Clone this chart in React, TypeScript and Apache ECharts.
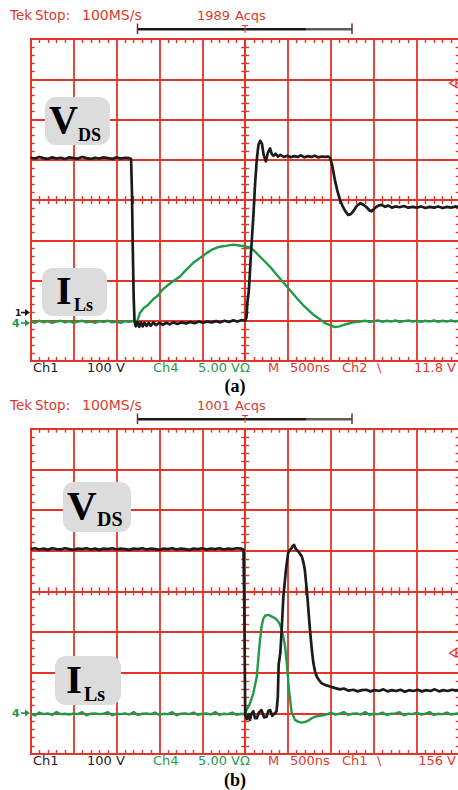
import { useEffect, useRef } from 'react';
import * as echarts from 'echarts';

// ---- data (division units: time -5..5 div, 500 ns/div; vertical -4..4 div) ----
const TIME_RANGE = [-5, 5];
const VERT_RANGE = [-4, 4];

const vdsA: number[][] = [
  [-5.0, 1.05], [-4.9, 1.03], [-4.8, 1.07], [-4.7, 1.04], [-4.6, 1.02], [-4.5, 1.06], [-4.4, 1.03], [-4.3, 1.05],
  [-4.2, 1.02], [-4.1, 1.06], [-4.0, 1.04], [-3.9, 1.03], [-3.8, 1.07], [-3.7, 1.04], [-3.6, 1.02], [-3.5, 1.05],
  [-3.4, 1.03], [-3.3, 1.06], [-3.2, 1.04], [-3.1, 1.02], [-3.0, 1.06], [-2.9, 1.03], [-2.8, 1.05], [-2.7, 1.04],
  [-2.66, 1.02], [-2.64, 0.2], [-2.62, -1.2], [-2.6, -2.4], [-2.58, -3.02],
  [-2.55, -3.14], [-2.51, -3.03], [-2.47, -3.15], [-2.43, -3.04], [-2.39, -3.14], [-2.35, -3.05], [-2.3, -3.13],
  [-2.25, -3.05], [-2.2, -3.12], [-2.14, -3.04], [-2.08, -3.11], [-2.0, -3.05], [-1.92, -3.1], [-1.84, -3.05],
  [-1.76, -3.09], [-1.68, -3.04], [-1.58, -3.08], [-1.48, -3.04], [-1.38, -3.07], [-1.28, -3.03], [-1.18, -3.06],
  [-1.08, -3.02], [-0.98, -3.05], [-0.88, -3.02], [-0.78, -3.04], [-0.68, -3.01], [-0.58, -3.04], [-0.48, -3.0],
  [-0.38, -3.03], [-0.28, -2.99], [-0.18, -3.02], [-0.08, -2.98], [0.0, -3.0],
  [0.03, -2.92], [0.05, -2.55], [0.08, -2.3], [0.1, -2.0], [0.13, -1.4], [0.16, -0.9], [0.19, -0.4], [0.23, 0.4],
  [0.27, 1.0], [0.31, 1.38], [0.35, 1.47], [0.39, 1.4], [0.43, 1.12], [0.48, 0.96], [0.53, 1.18], [0.58, 1.28],
  [0.62, 1.14], [0.66, 1.1], [0.71, 1.15], [0.76, 1.08], [0.82, 1.12], [0.9, 1.07], [0.98, 1.1], [1.06, 1.06],
  [1.14, 1.09], [1.22, 1.07], [1.3, 1.11], [1.38, 1.06], [1.46, 1.09], [1.54, 1.07], [1.62, 1.1], [1.7, 1.06],
  [1.78, 1.08], [1.86, 1.07], [1.94, 1.08], [1.98, 1.05],
  [2.03, 0.85], [2.09, 0.5], [2.15, 0.22], [2.21, 0.0], [2.27, -0.15], [2.33, -0.27], [2.4, -0.37], [2.46, -0.35],
  [2.52, -0.28], [2.6, -0.15], [2.68, -0.08], [2.76, -0.12], [2.83, -0.18], [2.9, -0.26], [2.95, -0.28],
  [3.02, -0.2], [3.1, -0.14], [3.18, -0.12], [3.26, -0.17], [3.34, -0.14], [3.42, -0.19], [3.5, -0.16],
  [3.6, -0.18], [3.7, -0.15], [3.8, -0.19], [3.9, -0.17], [4.0, -0.19], [4.1, -0.16], [4.2, -0.2], [4.3, -0.17],
  [4.4, -0.19], [4.5, -0.16], [4.6, -0.2], [4.7, -0.17], [4.8, -0.19], [4.9, -0.16], [5.0, -0.18],
];

const ilsA: number[][] = [
  [-5.0, -3.02], [-4.9, -3.05], [-4.8, -3.0], [-4.7, -3.04], [-4.6, -3.01], [-4.5, -3.05], [-4.4, -3.02],
  [-4.3, -3.0], [-4.2, -3.04], [-4.1, -3.01], [-4.0, -3.05], [-3.9, -3.02], [-3.8, -3.0], [-3.7, -3.04],
  [-3.6, -3.02], [-3.5, -3.05], [-3.4, -3.01], [-3.3, -3.03], [-3.2, -3.0], [-3.1, -3.04], [-3.0, -3.02],
  [-2.9, -3.05], [-2.8, -3.01], [-2.7, -3.03], [-2.6, -3.0], [-2.52, -3.02],
  [-2.45, -2.8], [-2.36, -2.68], [-2.28, -2.62], [-2.14, -2.46], [-2.04, -2.38], [-1.92, -2.22], [-1.83, -2.14],
  [-1.7, -2.03], [-1.52, -1.9], [-1.4, -1.76], [-1.21, -1.56], [-1.08, -1.46], [-0.9, -1.32], [-0.75, -1.22],
  [-0.59, -1.16], [-0.45, -1.14], [-0.28, -1.11], [-0.14, -1.13], [0.0, -1.15], [0.1, -1.18], [0.19, -1.24],
  [0.3, -1.36], [0.44, -1.51], [0.58, -1.66], [0.72, -1.84], [0.85, -2.0], [0.97, -2.15], [1.1, -2.31],
  [1.22, -2.46], [1.35, -2.61], [1.48, -2.74], [1.6, -2.86], [1.74, -2.96], [1.86, -3.06], [1.98, -3.11],
  [2.09, -3.16], [2.2, -3.14], [2.37, -3.08], [2.52, -3.04], [2.68, -3.02],
  [2.8, -3.0], [2.9, -3.03], [3.0, -3.01], [3.1, -2.99], [3.2, -3.03], [3.3, -3.0], [3.4, -3.02], [3.5, -2.99],
  [3.6, -3.03], [3.7, -3.01], [3.8, -2.99], [3.9, -3.02], [4.0, -3.0], [4.1, -3.03], [4.2, -3.0], [4.3, -3.02],
  [4.4, -2.99], [4.5, -3.03], [4.6, -3.0], [4.7, -3.02], [4.8, -2.99], [4.9, -3.02], [5.0, -3.0],
];

const vdsB: number[][] = [
  [-5.0, 1.04], [-4.9, 1.06], [-4.8, 1.03], [-4.7, 1.05], [-4.6, 1.02], [-4.5, 1.06], [-4.4, 1.04], [-4.3, 1.03],
  [-4.2, 1.06], [-4.1, 1.04], [-4.0, 1.02], [-3.9, 1.05], [-3.8, 1.04], [-3.7, 1.06], [-3.6, 1.03], [-3.5, 1.05],
  [-3.4, 1.02], [-3.3, 1.05], [-3.2, 1.04], [-3.1, 1.06], [-3.0, 1.03], [-2.9, 1.05], [-2.8, 1.04], [-2.7, 1.02],
  [-2.6, 1.05], [-2.5, 1.04], [-2.4, 1.06], [-2.3, 1.03], [-2.2, 1.05], [-2.1, 1.04], [-2.0, 1.02], [-1.9, 1.05],
  [-1.8, 1.04], [-1.7, 1.06], [-1.6, 1.03], [-1.5, 1.05], [-1.4, 1.04], [-1.3, 1.02], [-1.2, 1.05], [-1.1, 1.04],
  [-1.0, 1.06], [-0.9, 1.03], [-0.8, 1.05], [-0.7, 1.04], [-0.6, 1.06], [-0.5, 1.03], [-0.4, 1.05], [-0.3, 1.04],
  [-0.2, 1.06], [-0.1, 1.05], [-0.04, 1.03],
  [-0.02, -0.5], [0.0, -3.05],
  [0.04, -3.14], [0.08, -3.02], [0.11, -3.16], [0.15, -3.0], [0.19, -2.95], [0.23, -3.12], [0.27, -3.12],
  [0.32, -2.98], [0.38, -2.92], [0.44, -3.1], [0.5, -3.08], [0.54, -2.94], [0.58, -2.92], [0.63, -3.06],
  [0.69, -3.0], [0.73, -2.95],
  [0.76, -2.6], [0.78, -1.8], [0.82, -1.5], [0.85, -0.95], [0.89, -0.13], [0.95, 0.53], [1.0, 0.94], [1.04, 1.02],
  [1.08, 1.06], [1.11, 1.12], [1.14, 1.14], [1.18, 1.04], [1.24, 0.98], [1.28, 0.92], [1.32, 0.86], [1.36, 0.7],
  [1.39, 0.53], [1.42, 0.2], [1.45, -0.13], [1.48, -0.55], [1.51, -0.95], [1.55, -1.4], [1.59, -1.77],
  [1.63, -1.98], [1.67, -2.1], [1.72, -2.18], [1.78, -2.26], [1.86, -2.3], [1.98, -2.34], [2.1, -2.38],
  [2.21, -2.41], [2.3, -2.39], [2.4, -2.44], [2.52, -2.42], [2.62, -2.46], [2.72, -2.43],
  [2.82, -2.42], [2.92, -2.46], [3.02, -2.43], [3.12, -2.45], [3.22, -2.41], [3.32, -2.46], [3.42, -2.43],
  [3.52, -2.45], [3.62, -2.42], [3.72, -2.47], [3.82, -2.43], [3.92, -2.45], [4.02, -2.42], [4.12, -2.46],
  [4.22, -2.43], [4.32, -2.45], [4.42, -2.41], [4.52, -2.46], [4.62, -2.43], [4.72, -2.45], [4.82, -2.42],
  [4.92, -2.44], [5.0, -2.43],
];

const ilsB: number[][] = [
  [-5.0, -3.01], [-4.9, -3.05], [-4.8, -2.98], [-4.7, -3.02], [-4.6, -3.0], [-4.5, -3.04], [-4.4, -2.97],
  [-4.3, -3.02], [-4.2, -3.01], [-4.1, -3.03], [-4.0, -3.0], [-3.9, -3.02], [-3.8, -2.97], [-3.7, -3.05],
  [-3.6, -3.01], [-3.5, -3.0], [-3.4, -3.02], [-3.3, -3.01], [-3.2, -2.97], [-3.1, -3.05], [-3.0, -3.01],
  [-2.9, -3.02], [-2.8, -3.0], [-2.7, -3.03], [-2.6, -2.97], [-2.5, -3.04], [-2.4, -3.01], [-2.3, -3.0],
  [-2.2, -3.02], [-2.1, -2.98], [-2.0, -3.04], [-1.9, -3.01], [-1.8, -3.02], [-1.7, -2.97], [-1.6, -3.05],
  [-1.5, -3.01], [-1.4, -3.0], [-1.3, -3.02], [-1.2, -2.98], [-1.1, -3.04], [-1.0, -3.01], [-0.9, -3.0],
  [-0.8, -3.03], [-0.7, -2.97], [-0.6, -3.04], [-0.5, -3.01], [-0.4, -3.02], [-0.3, -2.98], [-0.2, -3.04],
  [-0.1, -3.01], [0.0, -3.02],
  [0.03, -2.92], [0.11, -2.76], [0.19, -2.5], [0.27, -2.1], [0.33, -1.36], [0.38, -0.87], [0.42, -0.68],
  [0.46, -0.6], [0.54, -0.58], [0.6, -0.61], [0.66, -0.64], [0.72, -0.68], [0.77, -0.74], [0.81, -0.82],
  [0.85, -0.95], [0.89, -1.12], [0.93, -1.36], [0.97, -1.77], [1.02, -2.42], [1.08, -2.96], [1.16, -3.16],
  [1.24, -3.21], [1.32, -3.23], [1.4, -3.21], [1.47, -3.18], [1.55, -3.12], [1.63, -3.08], [1.72, -3.06],
  [1.82, -3.05], [1.92, -3.02], [2.0, -2.98], [2.1, -3.03], [2.2, -3.01], [2.3, -2.97], [2.4, -3.04],
  [2.5, -3.01], [2.6, -3.0], [2.7, -3.03], [2.8, -2.97], [2.9, -3.04], [3.0, -3.01], [3.1, -3.02],
  [3.2, -2.98], [3.3, -3.04], [3.4, -3.01], [3.5, -3.0], [3.6, -2.97], [3.7, -3.05], [3.8, -3.01],
  [3.9, -3.02], [4.0, -2.98], [4.1, -3.03], [4.2, -3.01], [4.3, -2.97], [4.4, -3.04], [4.5, -3.01],
  [4.6, -3.02], [4.7, -2.98], [4.8, -3.03], [4.9, -3.01], [5.0, -3.0],
];

// status-line texts
const headerA = ['Tek', 'Stop:', '100MS/s', '1989', 'Acqs'];
const headerB = ['Tek', 'Stop:', '100MS/s', '1001', 'Acqs'];
const footerA = ['Ch1', '100 V', 'Ch4', '5.00 VΩ', 'M', '500ns', 'Ch2', '\\', '11.8 V'];
const footerB = ['Ch1', '100 V', 'Ch4', '5.00 VΩ', 'M', '500ns', 'Ch1', '\\', '156 V'];
const captions = ['(a)', '(b)'];

const RED = '#e4332a';
const TRED = '#dc3a2e';
const GREEN = '#1f9a48';
const BLACK = '#1b1b1b';
const TEK_FONT = '"DejaVu Sans", sans-serif';
const SERIF = '"Liberation Serif", "Times New Roman", serif';

function axesFor(dim: 'x' | 'y', gi: number, base: number, otherBase: number) {
  const range = dim === 'x' ? TIME_RANGE : VERT_RANGE;
  const common: any = {
    type: 'value',
    gridIndex: gi,
    min: range[0],
    max: range[1],
    interval: 1,
    axisLabel: { show: false },
    splitLine: { show: false },
    minorTick: { show: true, splitNumber: 5, length: 4, lineStyle: { color: RED, width: 1.4 } },
    axisLine: { show: true, onZero: false, lineStyle: { color: RED, width: 1.8 } },
  };
  const p1 = dim === 'x' ? 'bottom' : 'left';
  const p2 = dim === 'x' ? 'top' : 'right';
  return [
    { ...common, position: p1, axisTick: { show: false, inside: true }, splitLine: { show: true, lineStyle: { color: RED, width: 1.8 } } },
    { ...common, position: p2, axisTick: { show: false, inside: true } },
    { ...common, position: p1, axisTick: { show: false, inside: true }, axisLine: { show: true, onZero: true, onZeroAxisIndex: otherBase, lineStyle: { color: RED, width: 1.8 } } },
    { ...common, position: p1, axisTick: { show: false, inside: false }, axisLine: { show: true, onZero: true, onZeroAxisIndex: otherBase, lineStyle: { color: RED, width: 1.8 } } },
  ];
}

function txt(text: string, x: number, y: number, fill: string, font: string, align = 'left', z = 50): any {
  return { type: 'text', x, y, z, style: { text, fill, font, align, verticalAlign: 'middle' } };
}

function header(items: string[], dy: number): any[] {
  const f = `13px ${TEK_FONT}`;
  const f2 = `13.5px ${TEK_FONT}`;
  return [
    txt(items[0], 10, 15 + dy, TRED, f2),
    txt(items[1], 35, 15 + dy, TRED, f2),
    txt(items[2], 82, 15 + dy, TRED, `14px ${TEK_FONT}`),
    txt(items[3], 197, 15 + dy, TRED, f),
    txt(items[4], 235, 15 + dy, TRED, f),
    { type: 'line', z: 50, shape: { x1: 137, y1: 29.3 + dy, x2: 306, y2: 29.3 + dy }, style: { stroke: '#1a1a1a', lineWidth: 2.5 } },
    { type: 'line', z: 50, shape: { x1: 306, y1: 29.3 + dy, x2: 352, y2: 29.3 + dy }, style: { stroke: '#5c5c5c', lineWidth: 2.5 } },
    { type: 'line', z: 50, shape: { x1: 137.5, y1: 23.5 + dy, x2: 137.5, y2: 34 + dy }, style: { stroke: '#7a2a22', lineWidth: 1.5 } },
    { type: 'line', z: 50, shape: { x1: 352, y1: 23.5 + dy, x2: 352, y2: 34 + dy }, style: { stroke: '#7a2a22', lineWidth: 1.5 } },
    txt('T', 245, 29.5 + dy, TRED, `10px ${TEK_FONT}`, 'center', 51),
  ];
}

function footer(items: string[], y: number): any[] {
  const f = `13px ${TEK_FONT}`;
  return [
    txt(items[0], 33, y, '#222', f),
    txt(items[1], 87, y, '#222', f),
    txt(items[2], 153, y, GREEN, f),
    txt(items[3], 198, y, GREEN, f),
    txt(items[4], 268, y, TRED, f),
    txt(items[5], 290, y, TRED, f),
    txt(items[6], 342, y, TRED, f),
    txt(items[7], 377, y, TRED, f),
    txt(items[8], 456, y, TRED, f, 'right'),
  ];
}

function label(bx: number, by: number, bw: number, bh: number, big: string, sub: string,
  bigX: number, bigY: number, bigSize: number, subX: number, subY: number, subSize: number): any[] {
  return [
    { type: 'rect', z: 100, shape: { x: bx, y: by, width: bw, height: bh, r: 11 }, style: { fill: '#dcdcdc' } },
    txt(big, bigX, bigY, '#000', `bold ${bigSize}px ${SERIF}`, 'left', 101),
    txt(sub, subX, subY, '#000', `bold ${subSize}px ${SERIF}`, 'left', 101),
  ];
}

function groundMarker(ch: string, x: number, y: number, color: string, size: number): any[] {
  return [
    txt(ch, x, y, color, `bold ${size}px ${TEK_FONT}`, 'left', 60),
    { type: 'line', z: 60, shape: { x1: 21, y1: y, x2: 27, y2: y }, style: { stroke: color, lineWidth: 1.6 } },
    { type: 'polygon', z: 60, shape: { points: [[25, y - 3.5], [30, y], [25, y + 3.5]] }, style: { fill: color } },
  ];
}

function trigMarker(y: number): any[] {
  return [
    { type: 'polygon', z: 60, shape: { points: [[449.5, y], [456, y - 4], [456, y + 4]] }, style: { fill: '#fff', stroke: RED, lineWidth: 1.3 } },
    { type: 'line', z: 60, shape: { x1: 456, y1: y, x2: 458, y2: y }, style: { stroke: RED, lineWidth: 1.3 } },
  ];
}

export default function App() {
  const ref = useRef<HTMLDivElement>(null);
  useEffect(() => {
    document.body.style.margin = '0';
    const chart = echarts.init(ref.current!, null, { renderer: 'svg' });
    const line = (data: number[][], gi: number, color: string, width: number, z: number) => ({
      type: 'line',
      xAxisIndex: gi * 4,
      yAxisIndex: gi * 4,
      data,
      showSymbol: false,
      symbol: 'none',
      silent: true,
      z,
      lineStyle: { color, width, join: 'round' },
    });
    const option: any = {
      animation: false,
      backgroundColor: '#fff',
      grid: [
        { left: 30.7, top: 39, width: 429, height: 322, outerBoundsMode: 'none', containLabel: false },
        { left: 30.7, top: 428.7, width: 429, height: 325.3, outerBoundsMode: 'none', containLabel: false },
      ],
      xAxis: [...axesFor('x', 0, 0, 0), ...axesFor('x', 1, 4, 4)],
      yAxis: [...axesFor('y', 0, 0, 0), ...axesFor('y', 1, 4, 4)],
      series: [
        line(ilsA, 0, GREEN, 2.4, 3),
        line(vdsA, 0, BLACK, 2.7, 4),
        line(ilsB, 1, GREEN, 2.4, 3),
        line(vdsB, 1, BLACK, 2.7, 4),
      ],
      graphic: {
        elements: [
          ...header(headerA, 0),
          ...header(headerB, 390),
          ...footer(footerA, 367),
          ...footer(footerB, 760),
          txt(captions[0], 235, 386, '#000', `bold 18px ${SERIF}`, 'center'),
          txt(captions[1], 235, 780, '#000', `bold 18px ${SERIF}`, 'center'),
          ...label(45, 97, 65, 48, 'V', 'DS', 49, 119.5, 40, 78, 135, 18),
          ...label(42, 268, 65, 48, 'I', 'Ls', 56, 290.5, 40, 74, 305, 18),
          ...label(63, 482, 68, 50, 'V', 'DS', 67, 505, 41, 97, 519, 20),
          ...label(55, 656, 66, 49, 'I', 'Ls', 66, 679, 41, 84, 694, 20),
          ...groundMarker('1', 15, 312.5, BLACK, 9),
          ...groundMarker('4', 12, 323, GREEN, 11),
          ...groundMarker('4', 12, 713, GREEN, 11),
          ...trigMarker(83),
          ...trigMarker(653),
        ],
      },
    };
    chart.setOption(option);
    return () => chart.dispose();
  }, []);
  return <div ref={ref} style={{ width: 458, height: 790 }} />;
}
